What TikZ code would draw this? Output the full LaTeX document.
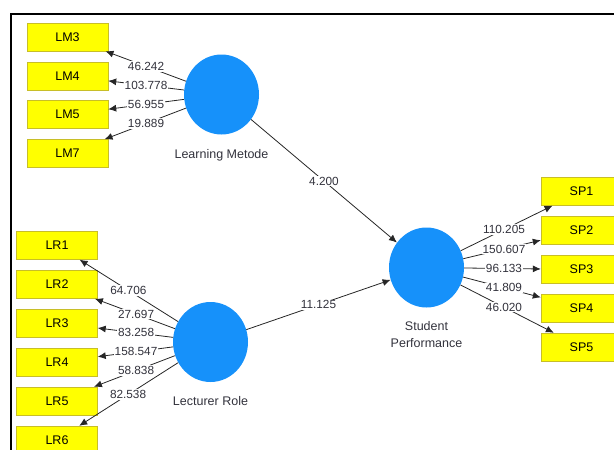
\documentclass[tikz,border=0pt]{standalone}
\usepackage{fontspec}
\setmainfont{Liberation Sans}
\usetikzlibrary{positioning,calc,arrows.meta,shapes.geometric}
\definecolor{lvblue}{RGB}{22,145,250}
\definecolor{indyellow}{RGB}{255,255,0}
\definecolor{indborder}{RGB}{200,190,40}
\definecolor{txtgray}{RGB}{50,50,60}

\begin{document}
\begin{tikzpicture}[x=1pt, y=-1pt,
	ind/.style={draw=indborder, fill=indyellow, minimum width=81pt, minimum height=28pt, inner sep=0pt, font=\fontsize{12.5}{14}\selectfont},
	latent/.style={ellipse, fill=lvblue, minimum width=75pt, minimum height=80pt, inner sep=0pt},
	lvname/.style={text=txtgray, align=center, inner sep=0pt, font=\fontsize{12.5}{17}\selectfont},
	load/.style={draw=black!85, line width=0.8pt, -{Latex[length=8pt,width=7pt]}},
	wt/.style={fill=white, text=txtgray, inner sep=1pt, font=\fontsize{11.8}{14}\selectfont}]
	\useasboundingbox (0,0) rectangle (614,450);
	\draw[line width=1.2pt] (11,450) -- (11,14) -- (614,14);
	
	% latent variables
	\node[latent] (lm) at (221.5,94.5) {};
	\node[latent] (lr) at (210.5,342) {};
	\node[latent] (sp) at (426.5,267.5) {};
	\node[lvname, below=15pt of lm] (lmtxt) {Learning Metode};
	\node[lvname, below=14pt of lr] (lrtxt) {Lecturer Role};
	\node[lvname, below=14pt of sp] (sptxt) {Student\\Performance};
	
	% indicators
	\foreach \n/\y in {3/37, 4/76, 5/114.5, 7/153.5}
	\node[ind] (lm\n) at (67.5,\y) {LM\n};
	\foreach \n/\y in {1/245.5, 2/284.5, 3/323, 4/362, 5/401, 6/440}
	\node[ind] (lr\n) at (57,\y) {LR\n};
	\foreach \n/\y in {1/191.5, 2/230.5, 3/269.5, 4/308, 5/347}
	\node[ind] (sp\n) at (581.5,\y) {SP\n};
	
	% outer loadings
	\foreach \n/\v in {3/46.242, 4/103.778, 5/56.955, 7/19.889} {
		\draw[load] (lm) -- (lm\n);
		\node[wt] (wlm\n) at ($(lm)!.49!(lm\n)$) {\v};
	}
	\foreach \n/\v/\t in {1/64.706/.535, 2/27.697/.485, 3/83.258/.485, 4/158.547/.485, 5/58.838/.485, 6/82.538/.537} {
		\draw[load] (lr) -- (lr\n);
		\node[wt] (wlr\n) at ($(lr)!\t!(lr\n)$) {\v};
	}
	\foreach \n/\v in {1/110.205, 2/150.607, 3/96.133, 4/41.809, 5/46.020} {
		\draw[load] (sp) -- (sp\n);
		\node[wt] (wsp\n) at ($(sp)!.5!(sp\n)$) {\v};
	}
	
	% path coefficients
	\draw[load] (lm) -- (sp) node[wt, pos=.5] (wlmsp) {4.200};
	\draw[load] (lr) -- (sp) node[wt, pos=.5] (wlrsp) {11.125};
\end{tikzpicture}
\end{document}
